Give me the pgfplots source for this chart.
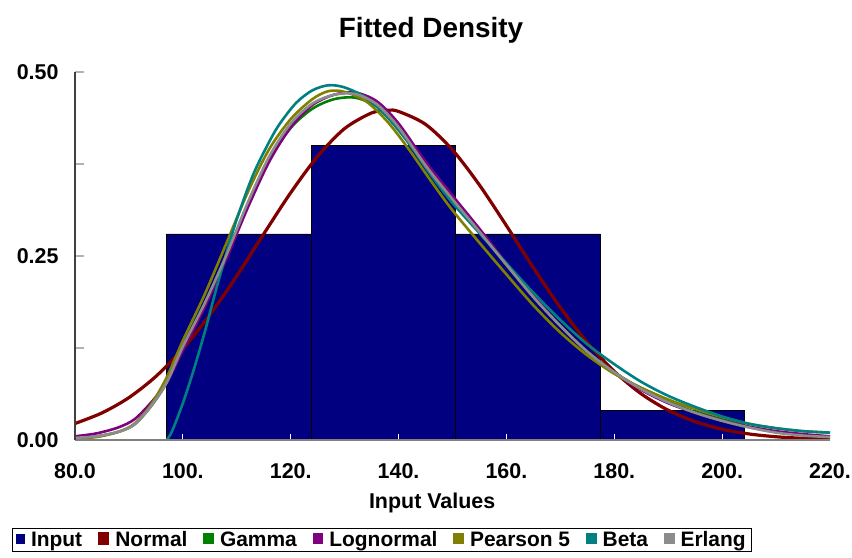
\documentclass[border=0pt]{standalone}
\usepackage{fontspec}
\setmainfont{Liberation Sans}
\usepackage{pgfplots}
\pgfplotsset{compat=1.18}
\definecolor{cInput}{HTML}{000080}
\definecolor{cNormal}{HTML}{800000}
\definecolor{cGamma}{HTML}{008000}
\definecolor{cLogn}{HTML}{800080}
\definecolor{cPear}{HTML}{808000}
\definecolor{cBeta}{HTML}{008080}
\definecolor{cErl}{HTML}{8C8C8C}
\pgfplotsset{sq/.style={legend image code/.code={\fill[#1] (0bp,-3bp) rectangle (8bp,6bp); \path (12bp,0bp);}}}
\begin{document}
\begin{tikzpicture}
\path[use as bounding box] (-75bp,-118bp) rectangle (777bp,440bp);
\begin{axis}[
  at={(0,0)}, anchor=south west,
  scale only axis, width=755bp, height=368bp,
  xmin=80, xmax=220, ymin=0, ymax=0.5,
  axis on top,
  axis x line*=bottom, axis y line*=left,
  x axis line style={draw=gray, line width=1.6bp},
  y axis line style={draw=black!75, line width=1.6bp},
  tick align=inside,
  major tick length=9bp,
  ytick={0,0.125,0.25,0.375,0.5}, yticklabels={0.00,,0.25,,0.50},
  ytick style={draw=gray!60, line width=1.2bp},
  xtick={80,100,...,220},
  xticklabels={80.0,100.,120.,140.,160.,180.,200.,220.},
  xtick style={draw=none},
  ticklabel style={font=\fontsize{21.5}{25}\selectfont\bfseries},
  yticklabel style={xshift=-13bp},
  xticklabel style={yshift=-20bp},
  title={Fitted Density},
  title style={font=\fontsize{28}{33}\selectfont\bfseries, at={(axis description cs:0.4715,1)}, anchor=base, yshift=29bp},
  xlabel={Input Values},
  xlabel style={font=\fontsize{21.5}{25}\selectfont\bfseries, at={(axis description cs:0.473,0)}, anchor=base, yshift=-68bp},
  legend columns=7,
  legend style={at={(axis description cs:0.4066,-0.2717)}, anchor=center, draw=black, line width=1bp,
    font=\fontsize{21}{24}\selectfont\bfseries, inner xsep=4bp, inner ysep=1bp,
    /tikz/every even column/.append style={column sep=14bp}},
]
\addplot[ybar interval, fill=cInput, draw=black, line width=0.8bp, sq=cInput]
  coordinates {(97.0,0.28) (123.8,0.40) (150.6,0.28) (177.4,0.04) (204.2,0.04)};
\addlegendentry{Input}
\addplot[ycomb, draw=white, line width=1.1bp, forget plot] coordinates {(100,0.0085)(120,0.0085)(140,0.0085)(160,0.0085)(180,0.0085)(200,0.0085)};
\addplot[cNormal, line width=3.2bp, smooth, sq=cNormal] coordinates {
(80,0.0224)(85,0.0368)(90,0.0576)(95,0.0864)(100,0.1239)(105,0.170)(110,0.223)(115,0.280)(120,0.336)(125,0.3855)(130,0.4232)(135,0.4444)(138,0.448)(140,0.4464)(145,0.4289)(150,0.3941)(155,0.3464)(160,0.2912)(165,0.2341)(170,0.1800)(175,0.1324)(180,0.0932)(185,0.0627)(190,0.0404)(195,0.0249)(200,0.0146)(205,0.0082)(210,0.0044)(215,0.0023)(220,0.0011)};
\addlegendentry{Normal}
\addplot[cGamma, line width=2.6bp, smooth, sq=cGamma] coordinates {
(80,0.003)(84,0.005)(88,0.011)(91,0.021)(94,0.045)(97,0.078)(100,0.126)(104,0.184)(108,0.248)(112,0.318)(116,0.380)(120,0.424)(124,0.450)(128,0.463)(132,0.465)(136,0.453)(140,0.424)(145,0.373)(150,0.327)(155,0.283)(160,0.238)(165,0.195)(170,0.155)(175,0.120)(180,0.092)(185,0.070)(190,0.052)(195,0.038)(200,0.027)(205,0.018)(210,0.011)(215,0.007)(220,0.004)};
\addlegendentry{Gamma}
\addplot[cLogn, line width=2.6bp, smooth, sq=cLogn] coordinates {
(80,0.005)(84,0.009)(88,0.017)(91,0.028)(94,0.050)(97,0.078)(100,0.122)(104,0.180)(108,0.245)(112,0.315)(116,0.378)(120,0.425)(124,0.455)(128,0.469)(132,0.472)(136,0.460)(140,0.430)(145,0.378)(150,0.332)(155,0.287)(160,0.240)(165,0.196)(170,0.155)(175,0.120)(180,0.091)(185,0.068)(190,0.050)(195,0.037)(200,0.026)(205,0.018)(210,0.012)(215,0.008)(220,0.005)};
\addlegendentry{Lognormal}
\addplot[cPear, line width=2.6bp, smooth, sq=cPear] coordinates {
(80,0.002)(84,0.004)(88,0.011)(91,0.022)(94,0.047)(97,0.085)(100,0.135)(104,0.197)(108,0.266)(112,0.336)(116,0.395)(120,0.436)(124,0.463)(127,0.474)(130,0.473)(134,0.460)(138,0.432)(142,0.394)(146,0.352)(150,0.312)(155,0.268)(160,0.225)(165,0.183)(170,0.146)(175,0.115)(180,0.090)(185,0.071)(190,0.055)(195,0.042)(200,0.031)(205,0.022)(210,0.016)(215,0.012)(220,0.010)};
\addlegendentry{Pearson 5}
\addplot[cBeta, line width=2.6bp, smooth, sq=cBeta] coordinates {
(97,0)(98,0.012)(100,0.050)(102,0.095)(104,0.145)(106,0.200)(108,0.252)(110,0.300)(113,0.360)(116,0.405)(118,0.430)(121,0.458)(124,0.475)(127,0.482)(130,0.479)(134,0.465)(138,0.438)(142,0.402)(146,0.360)(150,0.322)(155,0.281)(160,0.240)(165,0.200)(170,0.163)(175,0.130)(180,0.103)(185,0.079)(190,0.060)(195,0.045)(200,0.032)(205,0.022)(210,0.016)(215,0.012)(220,0.010)};
\addlegendentry{Beta}
\addplot[cErl, line width=2.6bp, smooth, sq=cErl] coordinates {
(80,0.003)(84,0.005)(88,0.011)(91,0.021)(94,0.045)(97,0.078)(100,0.127)(104,0.185)(108,0.250)(112,0.322)(116,0.385)(120,0.430)(124,0.457)(128,0.469)(132,0.470)(136,0.456)(140,0.425)(145,0.373)(150,0.327)(155,0.283)(160,0.238)(165,0.194)(170,0.155)(175,0.120)(180,0.092)(185,0.069)(190,0.051)(195,0.037)(200,0.026)(205,0.017)(210,0.010)(215,0.006)(220,0.004)};
\addlegendentry{Erlang}
\end{axis}
\end{tikzpicture}
\end{document}
